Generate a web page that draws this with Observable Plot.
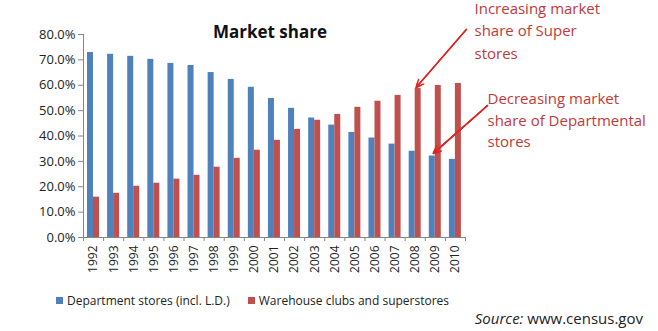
<!DOCTYPE html>
<html>
<head>
<meta charset="utf-8">
<script src="https://cdn.jsdelivr.net/npm/d3@7"></script>
<script src="https://cdn.jsdelivr.net/npm/@observablehq/plot@0.6"></script>
<style>
  html, body { margin: 0; padding: 0; background: #fff; }
  #wrap { position: relative; width: 658px; height: 331px; overflow: hidden; font-family: "Open Sans", sans-serif; color: #222; }
  #chart svg { display: block; }
  #legend { position: absolute; left: 56px; top: 292px; }
  #legend .lg-swatches-wrap { min-height: 0; margin: 0; font-size: 12px; font-family: "Open Sans", sans-serif; color: #222; }
  #legend .lg-swatch { margin-right: 18px; }
  #legend .lg-swatch > svg { margin-right: 4px; }
  #source { position: absolute; right: 15px; top: 308px; font-size: 15px; line-height: 20px; color: #222; white-space: nowrap; }
</style>
</head>
<body>
<div id="wrap">
  <div id="chart"></div>
  <div id="legend"></div>
  <div id="source"></div>
</div>
<script>
// ---- data ----
const years = ["1992","1993","1994","1995","1996","1997","1998","1999","2000","2001","2002","2003","2004","2005","2006","2007","2008","2009","2010"];
const departmentStores = [72.9, 72.2, 71.4, 70.2, 68.6, 67.8, 65.0, 62.3, 59.2, 54.8, 50.9, 47.1, 44.3, 41.4, 39.2, 36.8, 34.0, 32.1, 30.8];
const warehouseClubs = [15.9, 17.4, 20.2, 21.4, 23.0, 24.5, 27.7, 31.2, 34.4, 38.3, 42.6, 46.2, 48.5, 51.3, 53.7, 56.0, 58.7, 59.9, 60.7];
const seriesNames = ["Department stores (incl. L.D.)", "Warehouse clubs and superstores"];
const seriesColors = ["#4F81BD", "#C0504D"];
const yTicks = [0, 10, 20, 30, 40, 50, 60, 70, 80];
const titleText = "Market share";
const sourceLabel = "Source:";
const sourceText = "www.census.gov";
const noteSuper = "Increasing market\nshare of Super\nstores";
const noteDept = "Decreasing market\nshare of Departmental\nstores";

// ---- layout ----
const W = 658, H = 283, mL = 83, mR = 193, mT = 34, mB = 46;
const step = (W - mL - mR) / years.length;
const axisColor = "#868686";
const noteColor = "#BE3A3A";
const arrowColor = "#E02424";

const deptRows = years.map((year, i) => ({year, value: departmentStores[i]}));
const whRows = years.map((year, i) => ({year, value: warehouseClubs[i]}));

// annotation arrows: anchored at the bar tops they point to
const arrowSuper = [{x1: years[18], y1: 77.0, x2: years[16], y2: warehouseClubs[16]}];
const arrowDept = [{x1: years[18], y1: 39.1, x2: years[17], y2: departmentStores[17]}];

function arrowMarks(data, opts) {
  return [9, 6, 3].map(hl => Plot.arrow(data, {
    x1: "x1", y1: "y1", x2: "x2", y2: "y2",
    stroke: arrowColor, strokeWidth: 1.4, headLength: hl, headAngle: 50,
    ...opts
  }));
}

const chart = Plot.plot({
  width: W, height: H,
  marginLeft: mL, marginRight: mR, marginTop: mT, marginBottom: mB,
  style: {fontFamily: "Open Sans, sans-serif", color: "#222", background: "#fff", overflow: "visible"},
  x: {type: "band", domain: years, padding: 0, round: false},
  y: {domain: [0, 80]},
  marks: [
    Plot.barY(deptRows, {x: "year", y: "value", fill: seriesColors[0], insetLeft: 4, insetRight: step - 10}),
    Plot.barY(whRows, {x: "year", y: "value", fill: seriesColors[1], insetLeft: 10, insetRight: step - 16}),
    Plot.ruleY([0], {stroke: axisColor}),
    Plot.ruleX([years[0]], {x: d => d, dx: -step / 2, stroke: axisColor}),
    Plot.ruleX(years, {x: d => d, dx: -step / 2, y1: 0, y2: 0, insetBottom: -4, stroke: axisColor}),
    Plot.ruleX([years[years.length - 1]], {x: d => d, dx: step / 2, y1: 0, y2: 0, insetBottom: -4, stroke: axisColor}),
    Plot.axisY({ticks: yTicks, tickFormat: d => d.toFixed(1) + "%", tickSize: 5, tickPadding: 3, fontSize: 13, label: null, stroke: axisColor, fill: "#222"}),
    Plot.axisX({tickRotate: -90, tickSize: 0, tickPadding: 8, fontSize: 12, label: null, fill: "#222"}),
    Plot.text([titleText], {text: d => d, frameAnchor: "top", lineAnchor: "middle", dx: -4.5, dy: -1.5, fontSize: 17, fontWeight: "bold", fill: "#111"}),
    Plot.text([noteSuper], {text: d => d, frameAnchor: "top-right", textAnchor: "start", lineAnchor: "top", dx: 9, dy: -36.5, fontSize: 15, lineHeight: 1.5, fill: noteColor}),
    Plot.text([noteDept], {text: d => d, frameAnchor: "top-right", textAnchor: "start", lineAnchor: "top", dx: 22, dy: 54.5, fontSize: 15, lineHeight: 1.43, fill: noteColor}),
    ...arrowMarks(arrowSuper, {dx: 0, insetStart: -16.8, insetEnd: 1.5}),
    ...arrowMarks(arrowDept, {dx: -5, insetStart: -49.5, insetEnd: 4})
  ]
});
document.getElementById("chart").appendChild(chart);

const legend = Plot.legend({
  color: {type: "ordinal", domain: seriesNames, range: seriesColors},
  swatchSize: 7,
  className: "lg"
});
document.getElementById("legend").appendChild(legend);

const src = document.getElementById("source");
const it = document.createElement("i");
it.textContent = sourceLabel;
src.appendChild(it);
src.appendChild(document.createTextNode(" " + sourceText));
</script>
</body>
</html>
